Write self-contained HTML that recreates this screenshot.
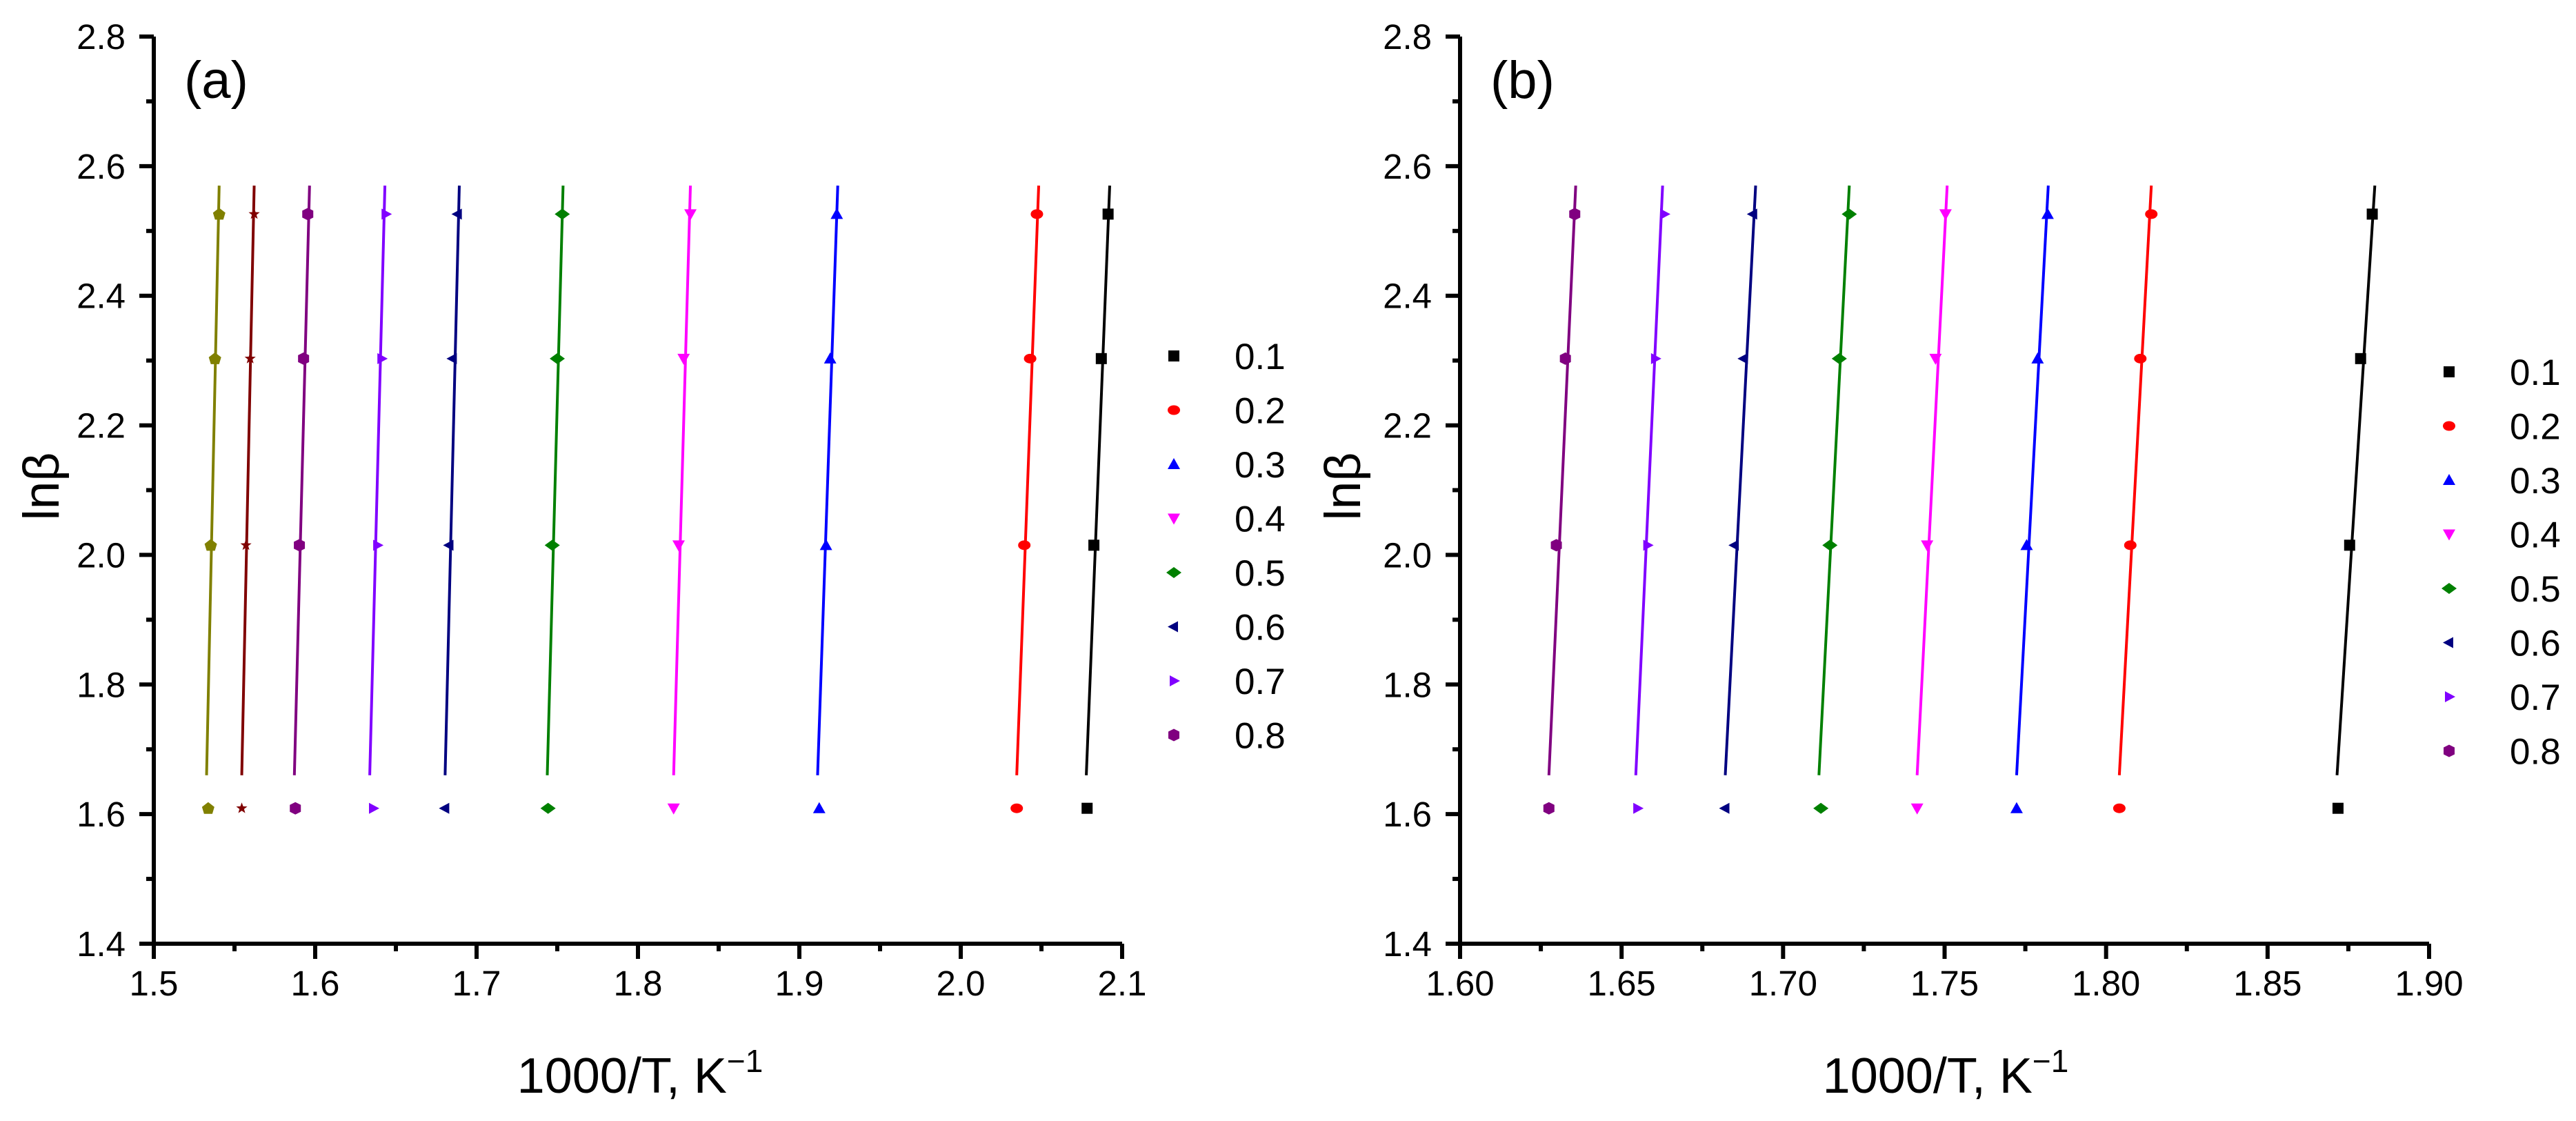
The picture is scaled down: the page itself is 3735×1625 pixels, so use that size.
<!DOCTYPE html>
<html><head><meta charset="utf-8"><title>ln beta vs 1000/T</title>
<style>
html,body{margin:0;padding:0;background:#fff;}
svg{display:block;font-family:"Liberation Sans",Arial,sans-serif;}
</style></head>
<body>
<svg id="chart" width="3735" height="1625" viewBox="0 0 3735 1625" xmlns="http://www.w3.org/2000/svg"></svg>
<script>
// ---- data ----
const yLevels = [1.609, 2.015, 2.303, 2.526];
const lineYRange = [1.66, 2.57];
const seriesNamesA = ["0.1","0.2","0.3","0.4","0.5","0.6","0.7","0.8","0.9","1.0"];
const seriesNamesB = ["0.1","0.2","0.3","0.4","0.5","0.6","0.7","0.8"];
const legendNames = ["0.1","0.2","0.3","0.4","0.5","0.6","0.7","0.8"];
const colors = ["#000000","#ff0000","#0000ff","#ff00ff","#008000","#000080","#8000ff","#800080","#800000","#808000"];
const markers = ["square","circle","up","down","diamond","left","right","hex","star","pent"];
const pointsA = [
 [2.0783,2.0825,2.0871,2.0913],
 [2.0347,2.0394,2.0430,2.0472],
 [1.9123,1.9165,1.9191,1.9232],
 [1.8221,1.8252,1.8283,1.8325],
 [1.7443,1.7469,1.7500,1.7531],
 [1.6805,1.6831,1.6852,1.6883],
 [1.6359,1.6385,1.6411,1.6437],
 [1.5877,1.5902,1.5928,1.5954],
 [1.5545,1.5571,1.5597,1.5622],
 [1.5337,1.5353,1.5379,1.5405]
];
const linesA = [
 [2.0778,2.0923],[2.0347,2.0483],[1.9113,1.9238],[1.8221,1.8325],[1.7438,1.7536],
 [1.6805,1.6893],[1.6338,1.6432],[1.5871,1.5965],[1.5545,1.5622],[1.5327,1.5405]
];
const pointsB = [
 [1.8718,1.8754,1.8788,1.8824],
 [1.8041,1.8075,1.8106,1.8140],
 [1.7723,1.7754,1.7788,1.7819],
 [1.7415,1.7446,1.7472,1.7503],
 [1.7117,1.7145,1.7174,1.7205],
 [1.6821,1.6850,1.6878,1.6907],
 [1.6549,1.6580,1.6604,1.6632],
 [1.6275,1.6298,1.6326,1.6355]
];
const linesB = [
 [1.8715,1.8832],[1.8041,1.8140],[1.7723,1.7821],[1.7415,1.7508],[1.7111,1.7205],
 [1.6821,1.6915],[1.6544,1.6627],[1.6275,1.6358]
];
const xTicksA = ["1.5","1.6","1.7","1.8","1.9","2.0","2.1"];
const xTicksB = ["1.60","1.65","1.70","1.75","1.80","1.85","1.90"];
const yTicks = ["1.4","1.6","1.8","2.0","2.2","2.4","2.6","2.8"];

// ---- drawing ----
const NS = "http://www.w3.org/2000/svg";
const svg = document.getElementById("chart");
function mk(tag, attrs, parent){
  const e = document.createElementNS(NS, tag);
  for (const k in attrs) e.setAttribute(k, attrs[k]);
  (parent||svg).appendChild(e);
  return e;
}
function markerShape(g, type, cx, cy, color){
  const s = 8;
  let e;
  if (type==="square"){ e = mk("rect",{x:cx-s,y:cy-s,width:2*s,height:2*s,fill:color},g); }
  else if (type==="circle"){ e = mk("ellipse",{cx:cx,cy:cy,rx:s+1,ry:s-1,fill:color},g); }
  else {
    let pts;
    if (type==="up") pts=[[0,-9],[9,7],[-9,7]];
    else if (type==="down") pts=[[0,9],[9,-7],[-9,-7]];
    else if (type==="diamond") pts=[[0,-8],[11,0],[0,8],[-11,0]];
    else if (type==="left") pts=[[-9,0],[6,-8],[6,8]];
    else if (type==="right") pts=[[9,0],[-6,-8],[-6,8]];
    else if (type==="hex") pts=[[-8,-5],[0,-9],[8,-5],[8,5],[0,9],[-8,5]];
    else if (type==="pent") pts=[[0,-9],[9,-2],[6,8],[-6,8],[-9,-2]];
    else { pts=[]; for(let i=0;i<10;i++){const r=i%2?3.5:8.5;const a=-Math.PI/2+i*Math.PI/5;pts.push([r*Math.cos(a),r*Math.sin(a)]);} }
    e = mk("polygon",{points:pts.map(p=>(cx+p[0])+","+(cy+p[1])).join(" "),fill:color},g);
  }
  return e;
}

function panel(opt){
  const g = mk("g",{});
  
  
  const X0=opt.x0, X1=opt.x1, Y0=1368, Y1=53;
  const xs = v => X0 + (v-opt.xmin)/(opt.xmax-opt.xmin)*(X1-X0);
  const ys = v => Y0 - (v-1.4)/(2.8-1.4)*(Y0-Y1);
  // series
  for (let i=0;i<opt.points.length;i++){
    const sg = mk("g",{},g);
    
    
    const ln = mk("line",{x1:xs(opt.lines[i][0]),y1:ys(lineYRange[0]),x2:xs(opt.lines[i][1]),y2:ys(lineYRange[1]),stroke:colors[i],"stroke-width":4},sg);
    
    
    for (let j=0;j<yLevels.length;j++){
      const m = markerShape(sg, markers[i], xs(opt.points[i][j]), ys(yLevels[j]), colors[i]);
      
      
    }
  }
  // axes
  const ax = mk("path",{d:`M${X0},${Y1} L${X0},${Y0} L${X1},${Y0}`,fill:"none",stroke:"#000","stroke-width":6,"stroke-linejoin":"miter"},g);
  
  
  // x ticks
  const nX = opt.xticks.length-1;
  for (let i=0;i<=nX;i++){
    const v = opt.xmin + i*(opt.xmax-opt.xmin)/nX;
    const x = xs(v);
    mk("line",{x1:x,y1:Y0,x2:x,y2:Y0+22,stroke:"#000","stroke-width":6},g);
    if (i<nX){ const xm = xs(v+(opt.xmax-opt.xmin)/nX/2); mk("line",{x1:xm,y1:Y0,x2:xm,y2:Y0+11,stroke:"#000","stroke-width":6},g); }
    const t = mk("text",{x:x,y:1443,"font-size":51,"text-anchor":"middle"},g);
    t.textContent = opt.xticks[i];
    
    
  }
  // y ticks
  for (let i=0;i<yTicks.length;i++){
    const v = 1.4 + i*0.2;
    const y = ys(v);
    mk("line",{x1:X0-21,y1:y,x2:X0,y2:y,stroke:"#000","stroke-width":6},g);
    if (i<yTicks.length-1){ const ym = ys(v+0.1); mk("line",{x1:X0-11,y1:ym,x2:X0,y2:ym,stroke:"#000","stroke-width":6},g); }
    const t = mk("text",{x:X0-41,y:y+18,"font-size":51,"text-anchor":"end"},g);
    t.textContent = yTicks[i];
    
    
  }
  // labels
  const pl = mk("text",{x:X0+44,y:142,"font-size":76},g);
  pl.textContent = opt.label;
  
  
  const yt = mk("text",{x:0,y:0,"font-size":73,"text-anchor":"middle",transform:`translate(${opt.ytitleX},705) rotate(-90)`},g);
  yt.textContent = "lnβ";
  
  
  const xt = mk("text",{x:opt.xtitleX,y:1584,"font-size":72,"text-anchor":"middle"},g);
  
  
  const t1 = mk("tspan",{},xt); t1.textContent = "1000/T, K";
  const t2 = mk("tspan",{dy:-30,"font-size":46},xt); t2.textContent = "−1";
  // legend
  const lg = mk("g",{},g);
  
  
  for (let i=0;i<legendNames.length;i++){
    const y = opt.legY + i*78.5;
    const m = markerShape(lg, markers[i], opt.legX, y, colors[i]);
    
    
    const t = mk("text",{x:opt.legX+88,y:y+19,"font-size":53},lg);
    t.textContent = legendNames[i];
    
    
  }
}

panel({name:"panel-a",label:"(a)",x0:223,x1:1627,xmin:1.5,xmax:2.1,xticks:xTicksA,points:pointsA,lines:linesA,names:seriesNamesA,ytitleX:85,xtitleX:928,legX:1702,legY:516});
panel({name:"panel-b",label:"(b)",x0:2117,x1:3522,xmin:1.60,xmax:1.90,xticks:xTicksB,points:pointsB,lines:linesB,names:seriesNamesB,ytitleX:1972,xtitleX:2821,legX:3551,legY:539});
</script>
</body></html>
